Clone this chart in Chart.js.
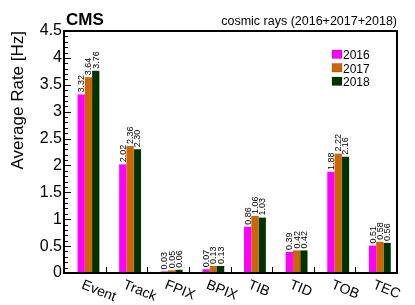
<!DOCTYPE html>
<html>
<head>
<meta charset="utf-8">
<script src="https://cdn.jsdelivr.net/npm/chart.js@4.4.1/dist/chart.umd.min.js"></script>
<style>
  html, body { margin: 0; padding: 0; background: #ffffff; }
  #wrap { width: 415px; height: 305px; position: relative; }
</style>
</head>
<body>
<div id="wrap"><canvas id="c" width="415" height="305"></canvas></div>
<script>
const categories = ["Event", "Track", "FPIX", "BPIX", "TIB", "TID", "TOB", "TEC"];
const years = ["2016", "2017", "2018"];
const rate2016 = [3.32, 2.02, 0.03, 0.07, 0.86, 0.39, 1.88, 0.51];
const rate2017 = [3.64, 2.36, 0.05, 0.13, 1.06, 0.42, 2.22, 0.58];
const rate2018 = [3.76, 2.30, 0.06, 0.13, 1.03, 0.42, 2.16, 0.56];
const yTicks = [0, 0.5, 1, 1.5, 2, 2.5, 3, 3.5, 4, 4.5];
const colors = ["#ff00ff", "#cc6600", "#003300"];
const headerLeft = "CMS";
const headerRight = "cosmic rays (2016+2017+2018)";
const yTitle = "Average Rate [Hz]";

const FONT = "'Liberation Sans', Arial, Helvetica, sans-serif";

const decor = {
  id: 'decor',
  afterDatasetsDraw(chart) {
    const ctx = chart.ctx;
    const a = chart.chartArea;
    const xs = chart.scales.x;
    const ys = chart.scales.y;
    ctx.save();
    // value labels
    ctx.fillStyle = '#000';
    ctx.font = '9px ' + FONT;
    ctx.textAlign = 'left';
    ctx.textBaseline = 'middle';
    chart.data.datasets.forEach((ds, di) => {
      if (!ds.showValues) return;
      const meta = chart.getDatasetMeta(di);
      meta.data.forEach((bar, i) => {
        const v = ds.data[i];
        if (v == null) return;
        ctx.save();
        ctx.translate(bar.x + 0.5, bar.y - 2);
        ctx.rotate(-Math.PI / 2);
        ctx.fillText(v.toFixed(2), 0, 0);
        ctx.restore();
      });
    });
    // frame
    ctx.strokeStyle = '#000';
    ctx.lineWidth = 2;
    ctx.strokeRect(a.left, a.top, a.right - a.left, a.bottom - a.top);
    // y ticks (major + minor)
    ctx.lineWidth = 1;
    for (let k = 0; k <= 45; k++) {
      const v = k / 10;
      const py = Math.round(ys.getPixelForValue(v)) + 0.5;
      const len = (k % 5 === 0) ? 7 : 4;
      ctx.beginPath();
      ctx.moveTo(a.left, py);
      ctx.lineTo(a.left + len, py);
      ctx.stroke();
    }
    // x ticks at bin boundaries
    for (let i = 0; i < categories.length - 1; i++) {
      const px = Math.round((xs.getPixelForValue(i) + xs.getPixelForValue(i + 1)) / 2) + 0.5;
      ctx.beginPath();
      ctx.moveTo(px, a.bottom);
      ctx.lineTo(px, a.bottom - 6);
      ctx.stroke();
    }
    // x labels
    ctx.font = '14px ' + FONT;
    ctx.textAlign = 'left';
    ctx.textBaseline = 'top';
    categories.forEach((c, i) => {
      const px = xs.getPixelForValue(i);
      ctx.save();
      ctx.translate(px, a.bottom + 5);
      ctx.rotate(22 * Math.PI / 180);
      ctx.fillText(c, 0, 0);
      ctx.restore();
    });
    // header
    ctx.textBaseline = 'alphabetic';
    ctx.font = 'bold 17px ' + FONT;
    ctx.textAlign = 'left';
    ctx.fillText(headerLeft, a.left + 2, 25);
    ctx.font = '12.5px ' + FONT;
    ctx.textAlign = 'right';
    ctx.fillText(headerRight, a.right, 25);
    // legend
    ctx.font = '12px ' + FONT;
    ctx.textAlign = 'left';
    ctx.textBaseline = 'alphabetic';
    years.forEach((y, i) => {
      const by = 50 + i * 13.5;
      ctx.fillStyle = colors[i];
      ctx.fillRect(332, by, 10, 8.5);
      ctx.strokeStyle = 'rgba(0,0,0,0.35)';
      ctx.lineWidth = 0.5;
      ctx.strokeRect(332, by, 10, 8.5);
      ctx.fillStyle = '#000';
      ctx.fillText(y, 343, by + 9);
    });
    ctx.restore();
  }
};

new Chart(document.getElementById('c'), {
  type: 'bar',
  data: {
    labels: categories,
    datasets: [
      { label: '', data: categories.map(() => null), backgroundColor: 'rgba(0,0,0,0)', showValues: false },
      { label: years[0], data: rate2016, backgroundColor: colors[0], showValues: true },
      { label: years[1], data: rate2017, backgroundColor: colors[1], showValues: true },
      { label: years[2], data: rate2018, backgroundColor: colors[2], showValues: true }
    ]
  },
  options: {
    responsive: false,
    animation: false,
    devicePixelRatio: 1,
    layout: { padding: { left: 0, right: 18, top: 31, bottom: 32 } },
    datasets: { bar: { categoryPercentage: 0.70, barPercentage: 1.0, borderWidth: 0 } },
    plugins: { legend: { display: false }, tooltip: { enabled: false } },
    scales: {
      x: { display: false, offset: true, grid: { display: false } },
      y: {
        min: 0, max: 4.5,
        afterBuildTicks: (s) => { s.ticks = yTicks.map(v => ({ value: v })); },
        afterFit: (s) => { s.width = 64; },
        grid: { display: false, drawTicks: false },
        border: { display: false },
        ticks: {
          color: '#000', padding: 2,
          font: { family: FONT, size: 16 },
          callback: (v) => String(v)
        },
        title: {
          display: true, text: yTitle, align: 'end', color: '#000',
          font: { family: FONT, size: 17 },
          padding: { top: 8, bottom: 0 }
        }
      }
    }
  },
  plugins: [decor]
});
</script>
</body>
</html>
